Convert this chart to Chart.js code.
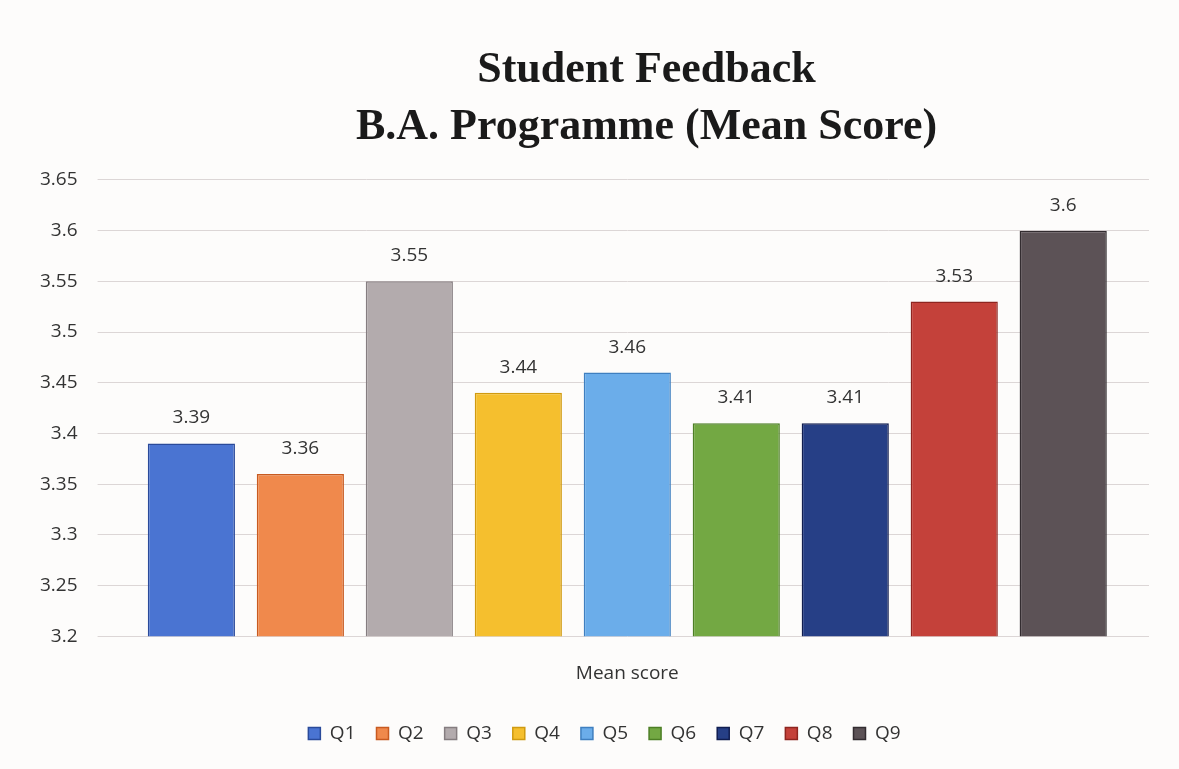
<!DOCTYPE html>
<html>
<head>
<meta charset="utf-8">
<script src="https://cdn.jsdelivr.net/npm/chart.js@4/dist/chart.umd.min.js"></script>
<style>
  html, body { margin: 0; padding: 0; background: #fdfcfb; }
  #wrap { width: 1179px; height: 769px; position: relative; }
</style>
</head>
<body>
<div id="wrap"><canvas id="bar-chart"></canvas></div>
<script>
var categories = ["Mean score"];
var questions = ["Q1", "Q2", "Q3", "Q4", "Q5", "Q6", "Q7", "Q8", "Q9"];
var meanScores = [3.39, 3.36, 3.55, 3.44, 3.46, 3.41, 3.41, 3.53, 3.6];
var barColors = ["#4a74d2", "#f0894c", "#b3abad", "#f5bf2e", "#6badea", "#73a843", "#263f86", "#c4413a", "#5c5256"];
var borderColors = ["#2a4a9a", "#c85a20", "#857d80", "#d09a10", "#3f7fc0", "#4d7f25", "#101d50", "#8e2520", "#332c30"];
var yTicks = { min: 3.2, max: 3.65, step: 0.05 };

var datasets = questions.map(function (q, i) {
  return {
    label: q,
    data: [meanScores[i]],
    backgroundColor: barColors[i],
    borderColor: borderColors[i],
    borderWidth: 1.5,
    barPercentage: 0.8,
    categoryPercentage: 0.94
  };
});

// value labels above each bar
var valueLabels = {
  id: 'valueLabels',
  afterDatasetsDraw: function (chart) {
    var ctx = chart.ctx;
    ctx.save();
    ctx.font = '19px "Open Sans", sans-serif';
    ctx.fillStyle = '#333';
    ctx.textAlign = 'center';
    ctx.textBaseline = 'bottom';
    chart.data.datasets.forEach(function (ds, i) {
      var bar = chart.getDatasetMeta(i).data[0];
      ctx.fillText(String(ds.data[0]), bar.x, bar.y - 16);
    });
    ctx.restore();
  }
};

// the original is a bit off-centre: nudge title and legend right
var nudge = {
  id: 'nudge',
  afterLayout: function (chart) {
    chart.titleBlock.left += 62; chart.titleBlock.right += 62;
    chart.legend.left += 20; chart.legend.right += 20;
  }
};

new Chart(document.getElementById("bar-chart"), {
  type: 'bar',
  data: { labels: categories, datasets: datasets },
  plugins: [valueLabels, nudge],
  options: {
    responsive: true,
    maintainAspectRatio: false,
    animation: false,
    layout: { padding: { left: 20, right: 30, top: 42, bottom: 16 } },
    plugins: {
      title: {
        display: true,
        text: ['Student Feedback', 'B.A. Programme (Mean Score)'],
        font: { family: '"Liberation Serif", serif', size: 44, weight: 'bold', lineHeight: 1.295 },
        color: '#1a1a1a',
        padding: { top: 0, bottom: 24 }
      },
      legend: {
        position: 'bottom',
        labels: {
          boxWidth: 12,
          boxHeight: 12,
          padding: 21,
          color: '#333',
          font: { family: '"Open Sans", sans-serif', size: 19 }
        }
      },
      tooltip: { enabled: false }
    },
    scales: {
      x: {
        grid: { display: false },
        border: { display: false },
        ticks: { color: '#333', font: { family: '"Open Sans", sans-serif', size: 19 }, padding: 18 }
      },
      y: {
        min: yTicks.min,
        max: yTicks.max,
        border: { display: false },
        grid: { color: '#dcd6d6', lineWidth: 1 },
        ticks: {
          stepSize: yTicks.step,
          color: '#333',
          padding: 20,
          font: { family: '"Open Sans", sans-serif', size: 19 },
          callback: function (v) { return String(parseFloat(v.toFixed(2))); }
        }
      }
    }
  }
});
</script>
</body>
</html>
